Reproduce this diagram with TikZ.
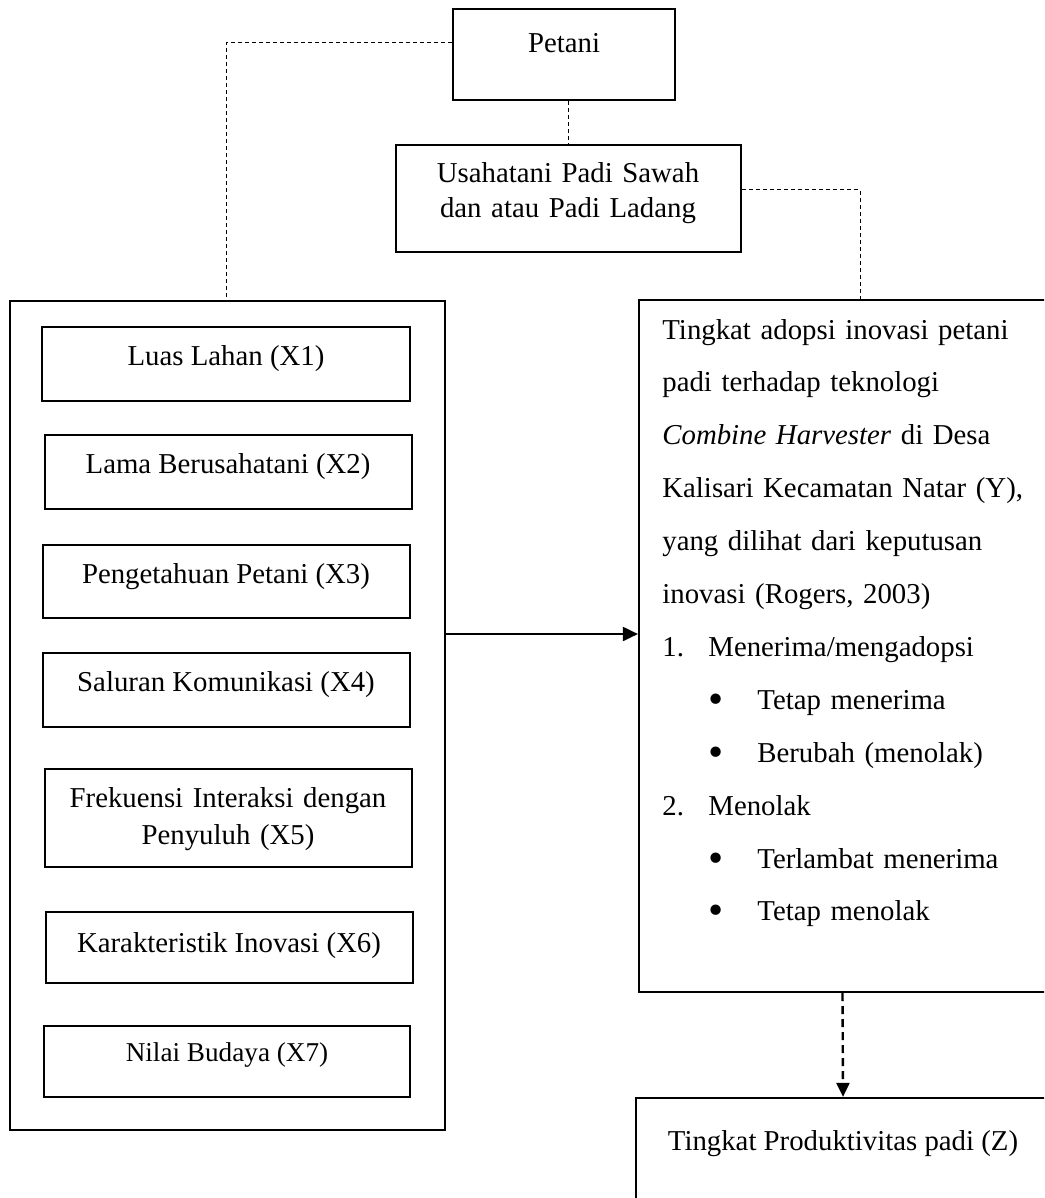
\documentclass[tikz,border=0pt]{standalone}
\usepackage{fontspec}
\setmainfont{Liberation Serif}
\usetikzlibrary{arrows.meta,fit}

\begin{document}
\begin{tikzpicture}
	[
	x=0.5pt, y=-0.5pt,
	kotak/.style={draw = black, line width = 1.1pt, inner sep = 0pt, shape = rectangle},
	teks/.style={font = \fontsize{14.4pt}{18.5pt}\selectfont, inner sep = 0pt, anchor = base},
	garis/.style={draw = black, line width = 0.5pt, dash pattern = on 2pt off 1.5pt},
	panah/.style={line width = 1pt, -{Triangle[length = 7.5pt, width = 7pt]}},
	panahputus/.style={line width = 1.2pt, dash pattern = on 4pt off 2.5pt, -{Triangle[length = 7pt, width = 6.5pt]}}
	]
	
	\clip (0,0) rectangle (1044,1198);
	
	% Top boxes
	\node[kotak, fit={(453,9) (675,100)}](petani){};
	\node[teks](tpetani) at (564,53){Petani};
	\node[kotak, fit={(396,145) (741,252)}](usaha){};
	\node[teks, text width = 160pt, align = center, font = \fontsize{14.4pt}{17.5pt}\selectfont](tusaha) at (568,183){Usahatani Padi Sawah\\dan atau Padi Ladang};
	
	% Left box with the factors X1..X7
	\node[kotak, fit={(10,301) (445,1130)}](luar){};
	\node[kotak, fit={(42,327) (410,401)}](x1){};
	\node[teks](t1) at (226,365){Luas Lahan (X1)};
	\node[kotak, fit={(45,435) (412,509)}](x2){};
	\node[teks](t2) at (228,473){Lama Berusahatani (X2)};
	\node[kotak, fit={(43,545) (410,618)}](x3){};
	\node[teks](t3) at (226,583){Pengetahuan Petani (X3)};
	\node[kotak, fit={(43,653) (410,727)}](x4){};
	\node[teks](t4) at (226,691){Saluran Komunikasi (X4)};
	\node[kotak, fit={(45,769) (412,867)}](x5){};
	\node[teks, text width = 180pt, align = center](t5) at (228,807){Frekuensi Interaksi dengan\\Penyuluh (X5)};
	\node[kotak, fit={(46,912) (413,983)}](x6){};
	\node[teks](t6) at (229,952){Karakteristik Inovasi (X6)};
	\node[kotak, fit={(44,1026) (410,1097)}](x7){};
	\node[teks, font = \fontsize{13.6pt}{17pt}\selectfont](t7) at (227,1061){Nilai Budaya (X7)};
	
	% Right boxes
	\node[kotak, fit={(639,300) (1046,992)}](adopsi){};
	\node[teks, anchor = base west, text width = 190pt, align = left, font = \fontsize{14.4pt}{26.45pt}\selectfont](tadopsi) at (662,339){%
		Tingkat adopsi inovasi petani\\
		padi terhadap teknologi\\
		\textit{Combine Harvester} di Desa\\
		Kalisari Kecamatan Natar (Y),\\
		yang dilihat dari keputusan\\
		inovasi (Rogers, 2003)\\
		\makebox[23pt][l]{1.}Menerima/mengadopsi\\
		\hspace*{23pt}\makebox[24.5pt][l]{\raisebox{-2pt}{\scalebox{1.5}{\textbullet}}}Tetap menerima\\
		\hspace*{23pt}\makebox[24.5pt][l]{\raisebox{-2pt}{\scalebox{1.5}{\textbullet}}}Berubah (menolak)\\
		\makebox[23pt][l]{2.}Menolak\\
		\hspace*{23pt}\makebox[24.5pt][l]{\raisebox{-2pt}{\scalebox{1.5}{\textbullet}}}Terlambat menerima\\
		\hspace*{23pt}\makebox[24.5pt][l]{\raisebox{-2pt}{\scalebox{1.5}{\textbullet}}}Tetap menolak};
	\node[kotak, fit={(636,1098) (1050,1210)}](produk){};
	\node[teks](tproduk) at (843,1150){Tingkat Produktivitas padi (Z)};
	
	% Connectors
	\coordinate (kiri) at (226,43);
	\coordinate (kanan) at (860,190);
	\coordinate (tengah) at (0,634);
	
	\draw[garis] (petani.west |- kiri) -- (kiri) -- (kiri |- luar.north);
	\draw[garis] (petani.south -| usaha.north) -- (usaha.north);
	\draw[garis] (usaha.east |- kanan) -- (kanan) -- (kanan |- adopsi.north);
	
	\draw[panah] (luar.east |- tengah) -- (adopsi.west |- tengah);
	\draw[panahputus] (adopsi.south) -- (produk.north);
\end{tikzpicture}
\end{document}
